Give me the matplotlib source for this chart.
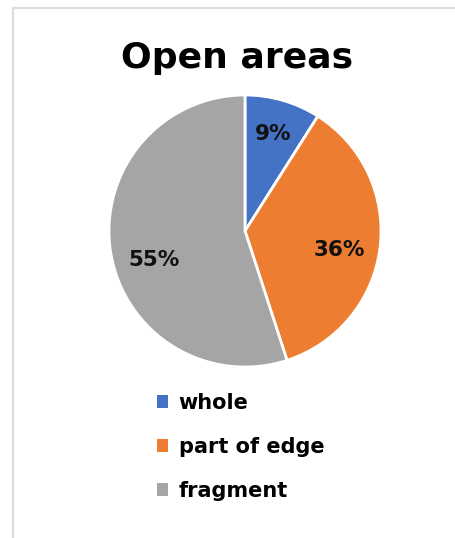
import matplotlib
matplotlib.use("Agg")
import matplotlib.pyplot as plt
import numpy as np
from matplotlib.lines import Line2D
from matplotlib.patches import Patch

title = "Open areas"
categories = ["whole", "part of edge", "fragment"]
values = [9, 36, 55]
colors = ["#4472C4", "#ED7D31", "#A5A5A5"]

plt.rcParams['font.family'] = ['DejaVu Sans']

W, H = 455, 538
fig = plt.figure(figsize=(W / 100, H / 100), dpi=100)
fig.patch.set_facecolor("white")

# light frame (top and left)
fig.add_artist(Line2D([13 / W, 1], [1 - 8 / H, 1 - 8 / H], color="#DCDCDC", lw=1.5))
fig.add_artist(Line2D([13 / W, 13 / W], [0, 1 - 8 / H], color="#DCDCDC", lw=1.5))

# pie axes: center (245,231), radius ~136 px
cx, cy, r = 245, 231, 136
ax = fig.add_axes([(cx - r) / W, 1 - (cy + r) / H, 2 * r / W, 2 * r / H])
wedges, texts, autotexts = ax.pie(
    values, colors=colors, startangle=90, counterclock=False,
    autopct=lambda p: f"{p:.0f}%", pctdistance=0.72,
    wedgeprops=dict(edgecolor="white", linewidth=2),
    textprops=dict(fontsize=15.5, fontweight="bold", color="#111111"),
)
# Excel "best fit" placement: small angular/radial tweaks per label
tweaks = [(0.0, 0.74), (-4.0, 0.71), (9.0, 0.70)]
for w, t, (dang, dist) in zip(wedges, autotexts, tweaks):
    ang = np.deg2rad((w.theta1 + w.theta2) / 2 + dang)
    t.set_position((dist * np.cos(ang), dist * np.sin(ang)))
ax.set_aspect("equal")
ax.set_xlim(-1, 1)
ax.set_ylim(-1, 1)

fig.text(237 / W, 1 - 58 / H, title, ha="center", va="center",
         fontsize=26, fontweight="bold", color="black")

handles = [Patch(facecolor=c, edgecolor="none") for c in colors]
leg = fig.legend(handles, categories, loc="upper left",
                 bbox_to_anchor=(138 / W, 1 - 374 / H), frameon=False,
                 prop=dict(weight="bold", size=15), handlelength=0.55,
                 handleheight=0.55, handletextpad=0.5, labelspacing=1.15)

fig.savefig("out.png", dpi=100, facecolor="white")
